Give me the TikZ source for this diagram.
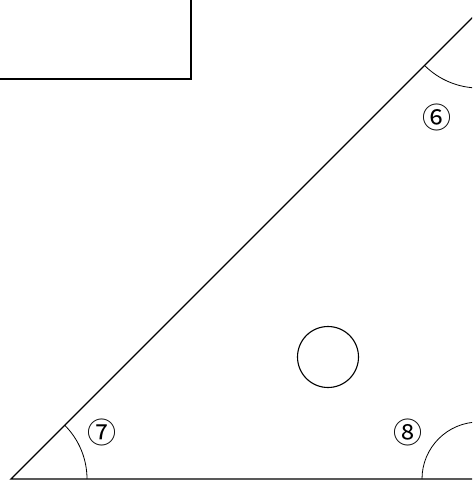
\documentclass[tikz,border=0pt]{standalone}
\usepackage{fontspec}
\newfontfamily\cjkfont{Noto Sans CJK JP}
\begin{document}
\begin{tikzpicture}[x=1pt,y=-1pt,
  edge/.style={line width=1.3pt},
  anglearc/.style={line width=0.8pt},
  boxline/.style={line width=2pt},
  lbl/.style={font=\cjkfont\fontsize{29}{29}\selectfont, inner sep=0pt}]
\useasboundingbox (0,0) rectangle (472,480);
\clip (0,0) rectangle (472,480);
% triangle vertices
\coordinate (BL) at (11,479);
\coordinate (BR) at (479,479);
\coordinate (TR) at (479,11);
% box
\coordinate (boxA) at (-10,-10);
\coordinate (boxB) at (191,79);
\draw[boxline] (boxA) rectangle (boxB);
% triangle
\draw[edge] (BL) -- (TR) -- (BR) -- cycle;
% angle arcs
\draw[anglearc] ([xshift=76pt]BL) arc[start angle=0,end angle=45,radius=76pt];
\draw[anglearc] ([yshift=-77pt]TR) arc[start angle=270,end angle=225,radius=77pt];
\draw[anglearc] ([xshift=-57pt]BR) arc[start angle=180,end angle=90,radius=57pt];
% circle
\node[draw, circle, line width=1.1pt, minimum size=61pt, inner sep=0pt] (hole) at (328,357) {};
% labels
\node[lbl] (l6) at (437,117) {⑥};
\node[lbl] (l7) at (102,432) {⑦};
\node[lbl] (l8) at (408,432) {⑧};
\end{tikzpicture}
\end{document}
